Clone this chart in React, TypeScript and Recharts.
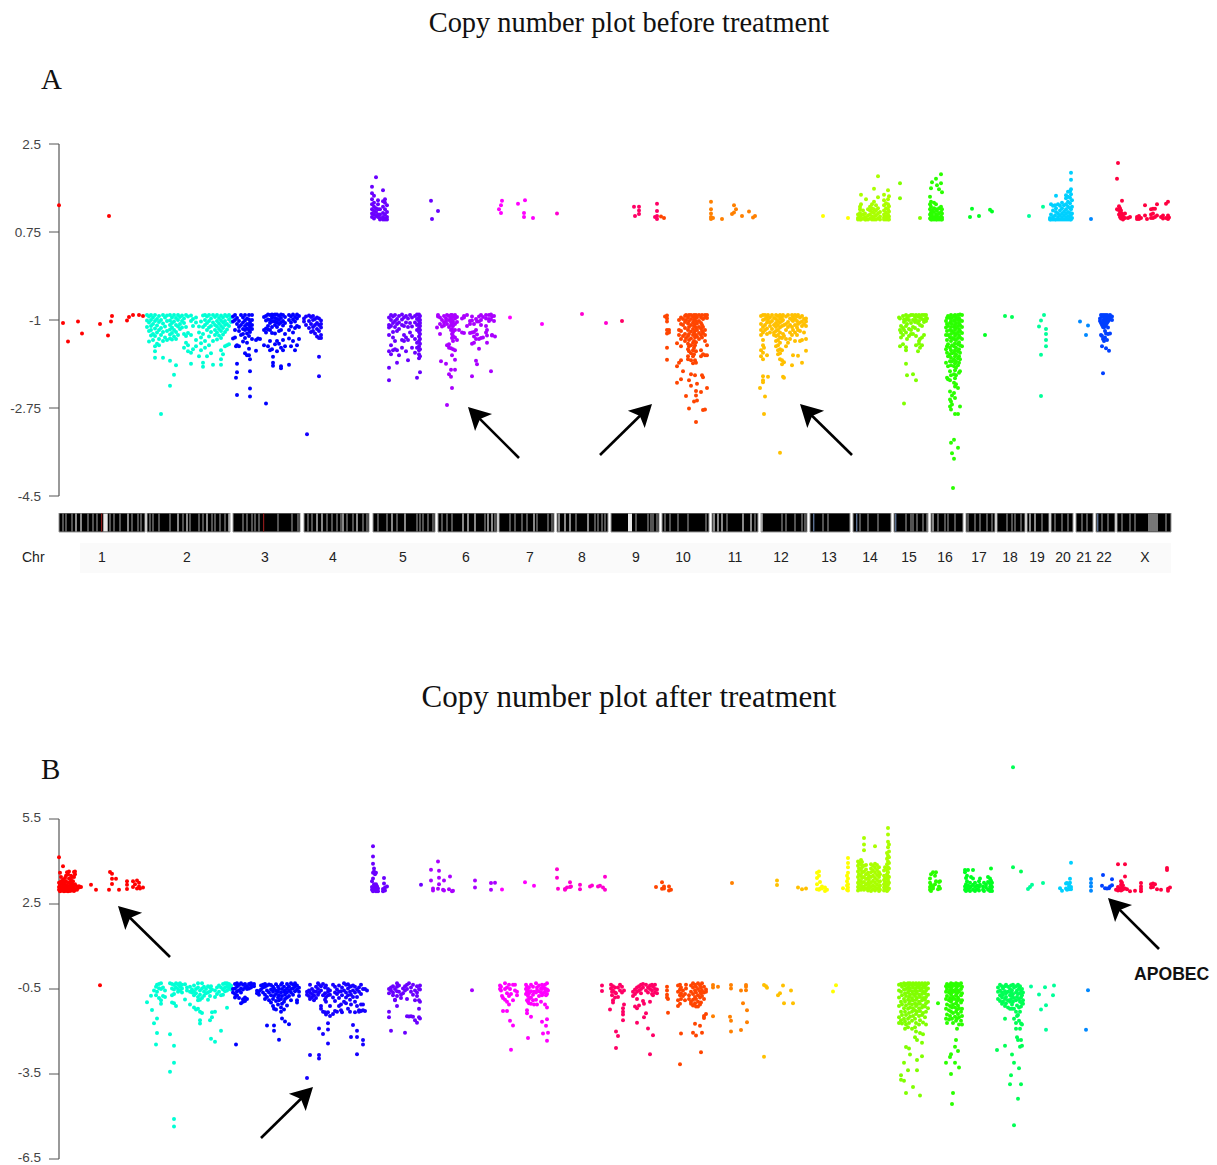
import { ReferenceArea, ReferenceLine, Scatter, ScatterChart, XAxis, YAxis } from "recharts";

// Each row is [genome position, value, value, ...]: everything seen at that position.
type Row = number[];

const chrNames = ["1", "2", "3", "4", "5", "6", "7", "8", "9", "10", "11", "12", "13", "14", "15", "16", "17", "18", "19", "20", "21", "22", "X"];
const chrColors = ["#ff0000", "#00ffd5", "#0000ff", "#1500ff", "#6a00ff", "#aa00ff", "#ff00ff", "#ff00d0", "#ff0066", "#ff4500", "#ff8000", "#ffc000", "#ffff00", "#aaff00", "#80ff00", "#2bff00", "#00ff22", "#00ff55", "#00ff99", "#00d0ff", "#0088ff", "#0040ff", "#ff0040"];
const chrCentres = [102, 187, 265, 333, 403, 466, 530, 582, 636, 683, 735, 781, 829, 870, 909, 945, 979, 1010, 1037, 1063, 1084, 1104, 1145];
const chrSpans = [[59, 145], [147, 230], [233, 300], [304, 369], [373, 435], [438, 497], [499, 554], [557, 608], [611, 659], [662, 709], [712, 758], [761, 807], [810, 850], [853, 891], [894, 928], [931, 963], [966, 995], [997, 1025], [1027, 1049], [1051, 1073], [1076, 1093], [1096, 1115], [1117, 1171]];

const midBands = [63, 66, 72, 88, 93, 97, 110, 114, 120, 132, 138, 141, 150, 153, 159, 170, 183, 190, 199, 203, 212, 215, 220, 225, 243, 247, 252, 255, 259, 278, 292, 298, 308, 312, 327, 332, 337, 341, 347, 353, 363, 367, 378, 387, 397, 417, 420, 423, 428, 433, 442, 447, 452, 485, 495, 510, 515, 522, 527, 537, 548, 552, 576, 595, 598, 602, 605, 636, 648, 651, 653, 657, 665, 670, 678, 688, 706, 727, 755, 782, 786, 795, 802, 805, 823, 828, 860, 868, 878, 906, 911, 913, 917, 923, 927, 938, 945, 948, 955, 968, 975, 980, 987, 992, 1007, 1012, 1015, 1021, 1042, 1055, 1062, 1068, 1082, 1087, 1102, 1108, 1122, 1130, 1135, 1149, 1151, 1153, 1155, 1157, 1166];
const lightBands = [76, 81, 128, 178, 187, 207, 229, 317, 322, 343, 357, 392, 405, 463, 468, 475, 488, 492, 534, 559, 565, 570, 588, 714, 718, 722, 743, 751, 762, 933, 1030, 1035];
const wideBands = [[103.3, 107.7, "#e8e8e8"], [628, 632, "#e8e8e8"], [1148, 1158, "#5a5a5a"], [101, 102.2, "#8b1a1a"], [263, 264.2, "#8b1a1a"], [813, 814.4, "#5a6f90"], [856, 857.4, "#5a6f90"], [895, 896.4, "#5a6f90"], [1097, 1098.4, "#5a6f90"]];

const before1: Row[] = [[59, 1.28], [63, -1.06], [68, -1.43], [78, -1.03], [82, -1.27], [100, -1.08], [108, -1.31], [109, 1.07], [111, -1.03], [112, -.92], [127, -1.01], [129, -.94], [133, -.9], [139, -.9], [143, -.92]];
const before2: Row[] = [[147, -.9, -1.01, -1.14], [149, -.93, -1.05, -1.22, -1.43], [151, -.9, -1, -1.12, -1.2, -1.31], [153, -.95, -1.08, -1.28, -1.4], [155, -.9, -1.02, -1.17, -1.32, -1.52, -1.62, -1.75], [157, -.98, -1.11, -1.25, -1.47], [159, -.92, -1.04, -1.2, -1.38, -1.5], [161, -1, -1.16, -1.3, -2.87], [163, -.9, -1.07, -1.24, -1.42, -1.75], [165, -.95, -1.13, -1.35], [167, -.91, -1.02, -1.22, -1.4], [170, -.9, -1.01, -1.1, -1.19, -1.29, -1.37, -1.81, -2.31], [172, -.95, -1.06, -1.15, -1.26, -1.39], [174, -.9, -1.03, -1.2, -1.33, -2.09], [176, -.96, -1.1, -1.24, -1.38, -1.9], [178, -.9, -1, -1.13, -1.3], [180, -.94, -1.08, -1.18], [182, -.91, -1.02, -1.15], [184, -.97, -1.06, -1.28, -1.55], [186, -.9, -1.14, -1.32, -1.45], [188, -.93, -1.26, -1.5, -1.62], [191, -.91, -1.02, -1.3, -1.65, -1.87], [193, -.98, -1.12, -1.58], [196, -.95, -1.05, -1.4, -1.52], [199, -1.13, -1.25, -1.72], [201, -1.03, -1.35, -1.46, -1.6], [203, -.91, -1.14, -1.28, -1.93, -1.85], [205, -.9, -1, -1.1, -1.42, -1.55], [207, -.93, -1.06, -1.2, -1.72], [209, -.9, -1.02, -1.15, -1.33, -1.5], [211, -.97, -1.12, -1.24, -1.66], [213, -.9, -1.05, -1.42, -1.89], [215, -.94, -1.1, -1.2, -1.3], [217, -.9, -1.02, -1.13, -1.25, -1.39], [219, -.96, -1.07, -1.18, -1.31], [221, -.91, -1.01, -1.12, -1.22, -1.36, -1.6, -1.78, -1.89], [223, -.95, -1.05, -1.16, -1.29, -1.68], [225, -.9, -1.02, -1.1, -1.24, -1.52], [227, -.93, -1.08, -1.19, -1.5], [229, -.9, -.99, -1.12, -1.48], [231, -.95, -1.04]];
const before3: Row[] = [[233, -.93, -1.03, -1.37], [235, -.9, -1, -1.2, -1.35], [236, -2.15, -1.52], [237, -.96, -1.08, -1.5, -1.87, -2.04, -2.49], [239, -1.02, -1.14, -1.22, -1.52], [241, -.9, -1.1, -1.3], [243, -.95, -1.05, -1.18, -1.28, -1.43], [245, -.9, -1.01, -1.12, -1.2, -1.36, -1.66], [247, -.97, -1.08, -1.17, -1.27, -1.45, -1.7], [249, -.9, -.99, -1.1, -1.2, -1.32, -1.57, -1.7], [250, -1.05, -1.14, -1.24, -1.78, -2.02, -2.36, -2.52], [252, -.9, -1, -1.1, -1.18, -1.38], [256, -1.61, -1.4], [258, -1.37], [260, -1.38], [264, -.94, -1.2, -1.5], [266, -.92, -1.01, -1.17, -1.25, -2.66], [268, -.89, -.99, -1.12, -1.19, -1.52], [270, -.9, -1, -1.06, -1.2, -1.42, -1.6], [272, -.89, -.95, -1.03, -1.14, -1.26, -1.58], [273, -.9, -1.02, -1.73, -1.85, -1.91], [275, -.89, -.96, -1.03, -1.1, -1.27, -1.48], [277, -.89, -.98, -1.05, -1.14, -1.42, -1.62], [279, -.92, -1, -1.08, -1.22, -1.47], [281, -.89, -.96, -1.05, -1.2, -1.55, -1.96, -1.92], [283, -.9, -1.02, -1.11, -1.4, -1.6], [285, -.94, -1.06, -1.28, -1.52], [289, -.9, -1, -1.2, -1.37, -1.89], [291, -.93, -1.05, -1.13, -1.52], [293, -.89, -.99, -1.25, -1.42], [295, -.94, -1.03, -1.16, -1.6], [297, -.89, -.97, -1.12, -1.5], [299, -.92, -1.14, -1.38]];
const before4: Row[] = [[304, -.97, -1.03], [306, -.93, -1.1], [307, -3.27], [309, -.91, -1.02, -1.16], [311, -.94, -1.08, -1.24], [313, -.92, -1, -1.14, -1.22], [315, -.98, -1.1, -1.27], [317, -.95, -1.06, -1.18, -1.33], [319, -.97, -1.1, -1.22, -1.36, -1.73, -2.12], [321, -1.01, -1.08, -1.15, -1.3, -1.36]];
const before5: Row[] = [[372, 1.05, 1.12, 1.2, 1.3, 1.4, 1.52, 1.65], [374, 1.02, 1.1, 1.17, 1.25, 1.33, 1.47], [376, 1.07, 1.15, 1.22, 1.84], [378, 1.05, 1.1, 1.2, 1.3, 1.38], [380, 1, 1.03, 1.1, 1.2], [383, 1, 1.05, 1.13, 1.25, 1.36, 1.58], [385, 1, 1.02, 1.1, 1.2, 1.33, 1.4], [387, 1, 1.05, 1.15, 1.28], [389, -.95, -1.1, -1.15, -1.3, -1.62, -1.95, -2.2], [391, -.9, -1, -1.12, -1.5, -1.68], [393, -.93, -1.06, -1.24, -1.35, -1.6], [395, -.9, -1.02, -1.14, -1.42, -1.58], [397, -.98, -1.08, -1.22, -1.6, -1.85], [399, -.92, -1.05, -1.18, -1.7], [402, -.89, -.99, -1.1, -1.4, -1.55], [404, -.95, -1.12, -1.3, -1.42], [406, -.92, -1.05, -1.35, -1.62], [408, -.97, -1.14, -1.4, -1.8], [410, -.9, -1.06, -1.25], [412, -.95, -1.13, -1.32, -1.55], [415, -.92, -1.05, -1.38, -1.65], [417, -.89, -.98, -1.1, -1.2, -1.45, -1.55, -2.15], [419, -.89, -.95, -1.02, -1.08, -1.16, -1.24, -1.33, -1.42, -1.52, -1.6, -1.68, -1.76], [420, -.92, -1, -1.06, -1.12, -1.2, -1.28, -1.38, -1.47, -1.58, -1.72, -2.04], [431, 1.37], [432, 1.01], [438, 1.17]];
const before6: Row[] = [[437, -1.15], [438, -.9, -.93], [440, -1.08, -1.28, -.95], [441, -1.82], [442, -1, -1.13], [444, -.92, -1.05, -1.11], [446, -.97, -1.02, -1.87], [447, -.9, -1.08, -1.5, -2.69], [449, -.92, -1, -1.14, -1.48, -1.55, -2.08], [451, -.9, -.96, -1.04, -1.1, -1.2, -1.56, -1.99, -2.13], [452, -.9, -1, -1.06, -1.18, -1.28, -1.36, -1.7, -2.35], [453, -.93, -1.03, -1.12, -1.24, -1.32, -1.42, -1.58], [455, -.9, -.97, -1.08, -1.2, -1.35, -1.6, -1.79, -1.99], [457, -.94, -1.04, -1.4], [459, -1.2], [462, -.97, -1.25], [464, -.92, -.95, -1.26], [467, -.9, -1.12], [470, -1.02, -1.26, -1.08], [472, -.93, -1.01, -1.25, -1.47, -2.12], [474, -1.08, -1.24, -1.33, -1.45], [476, -.98, -1.2, -1.38, -1.81], [477, -1.03, -1.29, -1.88], [479, -.93, -1.03, -1.38, -1.57], [481, -.9, -1, -1.1, -1.36], [483, -.94, -1.35], [486, -.9, -.97, -1.12, -1.25], [487, -1.2, -1.31, -1.45], [489, -.9, -.98, -1.02], [491, -.89, -.99, -2.02], [492, -.93, -1.3, -1.31], [494, -.92, -1.02], [495, -1.33]];
const before7: Row[] = [[499, 1.2], [501, 1.28, 1.13], [502, 1.37], [510, -.95], [518, 1.31], [524, 1.13, 1.05], [525, 1.38], [533, 1.03], [542, -1.08]];
const before8: Row[] = [[557, 1.12], [582, -.88], [606, -1.06]];
const before9: Row[] = [[622, -1.02], [634, 1.25], [635, 1.07], [639, 1.25, 1.18, 1.11], [655, 1.05], [657, 1.31, 1.17, 1.07, 1.01]];
const before10: Row[] = [[661, 1.06], [664, 1.03], [665, -.93], [667, -.91, -.97, -1.03, -1.2, -1.27, -1.55, -1.79], [669, -1.2, -1.25], [677, -1.46, -1.92, -2.25], [679, -1, -1.2, -1.3, -1.85], [681, -.95, -1.08, -1.22, -1.38, -1.52, -1.8, -2.18], [683, -.98, -1.1, -1.32, -2.02], [685, -.92, -1.04, -1.16, -1.28, -1.42], [686, -.9, -1, -1.36, -2.51], [688, -.95, -1.07, -1.2, -1.32, -1.47, -1.58, -1.72, -1.78], [689, -.9, -1.02, -1.14, -1.28, -1.4, -1.52, -1.62, -2.2, -2.76], [691, -.9, -.98, -1.1, -1.23, -1.37, -1.5, -1.66, -1.8, -2.08, -2.31], [693, -.93, -1.05, -1.18, -1.3, -1.45, -1.6, -1.72, -1.86], [694, -.9, -1, -1.12, -1.26, -1.42, -1.55, -1.68, -2.62], [695, -.96, -1.08, -1.22, -1.35, -1.5, -1.8, -2.1], [696, -.9, -1.02, -1.15, -1.3, -1.44, -1.62, -1.85, -2.41, -2.5, -3.03], [697, -.95, -1.07, -1.2, -1.33, -2.27, -2.6], [699, -.9, -1.02, -1.14, -1.26, -1.38], [701, -.95, -1.06, -1.17, -1.3, -1.6, -1.72, -2.43], [702, -.9, -1.1, -1.22, -1.35, -2.1], [703, -.98, -1.14, -1.26, -1.68, -2.14, -2.79], [705, -.9, -.95, -1.2, -1.3, -1.42, -1.7, -2.78], [707, -.9, -.96, -1.5, -1.7, -2.35]];
const before11: Row[] = [[711, 1.35, 1.2, 1.12, 1.05, 1.01], [713, 1.03], [722, 1.01], [732, 1.11], [734, 1.28, 1.14], [736, 1.2], [742, 1.07], [749, 1.16], [753, 1.04], [755, 1.07]];
const before12: Row[] = [[760, -2.35], [761, -.92, -1.08, -1.2, -1.3, -1.6, -1.72], [763, -.9, -1, -1.14, -1.25, -1.4, -1.5, -1.65, -1.78, -2.12, -2.2, -2.24], [764, -2.87, -1.55], [765, -.9, -.98, -1.1, -1.2, -2.52], [767, -.94, -1.05, -1.17, -1.28, -1.7], [768, -.9, -1, -2.13], [770, -.95, -1.05, -1.12, -1.25], [772, -.9, -1.02, -1.18], [774, -.96, -1.1, -1.25, -1.3], [776, -.9, -.98, -1.06, -1.14, -1.22, -1.32, -1.42, -1.52], [778, -.92, -1.02, -1.1, -1.2, -1.3, -1.4, -1.5, -1.6, -1.68], [780, -.9, -.97, -1.05, -1.15, -1.25, -1.35, -1.45, -1.58, -1.66, -1.78, -3.64], [782, -.94, -1.02, -1.12, -1.36, -1.6, -1.8, -1.88], [783, -.9, -1, -1.28, -2.13], [784, -1.1, -1.32, -1.84, -2.15], [786, -.93, -1.08, -1.2, -1.38, -1.52], [788, -.9, -1.04, -1.14, -1.45], [790, -.97, -1.1, -1.25, -1.38], [792, -.9, -1, -1.14, -1.3, -1.9], [793, -.94, -1.02, -1.2, -1.7], [795, -.9, -.98, -1.1, -1.25, -1.42], [797, -.93, -1.02, -1.15, -1.3], [798, -.9, -1.08, -1.2, -1.71], [800, -.95, -1.05, -1.22, -1.42], [802, -.92, -1.03, -1.12, -1.4, -1.85], [804, -.98, -1.08, -1.25], [806, -.97, -1.03, -1.12, -1.38, -1.61]];
const before13: Row[] = [[823, 1.07], [848, 1.03]];
const before14: Row[] = [[858, 1, 1.03, 1.1], [860, 1, 1.05, 1.13, 1.2, 1.25], [861, 1, 1.08, 1.3, 1.49], [863, 1.02, 1.1, 1.18], [865, 1, 1.05, 1.12], [866, 1, 1.03, 1.4], [868, 1, 1.08, 1.2], [870, 1.02, 1.1, 1.18, 1.25], [872, 1, 1.06, 1.15, 1.22, 1.3], [874, 1, 1.05, 1.13, 1.2, 1.35, 1.61], [876, 1, 1.08, 1.18, 1.28], [878, 1.02, 1.12, 1.22, 1.44, 1.86], [880, 1, 1.06, 1.15], [884, 1, 1.04, 1.1, 1.18, 1.28, 1.38, 1.49], [886, 1, 1.06, 1.14, 1.22, 1.32], [888, 1, 1.03, 1.1, 1.2, 1.3, 1.4, 1.58], [889, 1, 1.06, 1.16, 1.26, 1.46]];
const before15: Row[] = [[899, -.95], [900, 1.72, 1.42, -.97, -1.2, -1.52], [901, -1.12, -1.25, -1.35], [903, -.92, -1.16, -1.3, -1.48], [904, -.99, -1.04, -1.2, -2.66], [906, -.9, -1, -1.12, -1.25, -1.54, -1.6, -1.87], [907, -.96, -1.08, -1.38, -2.1], [909, -.92, -1, -1.18, -1.32], [911, -.9, -1.06, -1.2, -1.28], [913, -.9, -1, -1.14, -1.28, -2.08], [915, -.94, -1.04, -1.16], [916, -.9, -1, -1.32, -1.5, -2.2], [918, -.93, -1.06, -1.2, -1.62], [919, -.9, -1.02, -1.42, -1.47], [920, 1.03, -.95, -1.1, -1.38, -1.55], [922, -.9, -.98, -1.12, -1.35, -1.5], [924, -.9, -1, -1.04, -1.3], [926, -.9, -.96, -1.02], [927, -.97]];
const before16: Row[] = [[930, 1.02, 1.1, 1.2, 1.3, 1.45], [931, 1, 1.06, 1.14, 1.25, 1.35, 1.62], [932, 1, 1.03, 1.1, 1.18, 1.74], [934, 1, 1.05, 1.15, 1.22, 1.33], [936, 1, 1.04, 1.1, 1.2, 1.3, 1.81], [937, 1, 1.08, 1.17, 1.68], [939, 1, 1.04, 1.12, 1.22, 1.6], [941, 1, 1.06, 1.15, 1.25, 1.72, 1.9], [942, 1, 1.04, 1.12, 1.2, 1.54], [946, -1.02, -1.15, -1.3, -1.58, -1.85], [947, -.96, -1.08, -1.22, -1.4, -1.52, -1.65, -2.15], [948, -.92, -1.12, -1.3, -1.48, -1.72, -1.92, -2.18], [950, -.96, -1.06, -1.2, -1.35, -1.55, -1.68, -1.82, -2.02, -2.2, -2.42, -2.58, -2.72], [951, -.9, -1.02, -1.14, -1.28, -1.42, -1.6, -1.75, -1.9, -2.1, -2.62, -2.78, -3.44], [952, -.96, -1.08, -1.22, -1.36, -1.5, -1.66, -1.82, -2.5, -2.68, -3.65], [953, -4.34], [954, -.92, -1.02, -1.14, -1.26, -1.38, -1.52, -1.65, -1.78, -1.92, -2.08, -2.25, -2.45, -3.38, -3.76], [955, -.9, -1, -1.1, -1.2, -1.32, -1.46, -1.6, -1.72, -1.86, -2, -2.16, -2.32, -2.55, -2.87], [956, -.95, -1.06, -1.16, -1.28, -1.4, -1.55, -1.68, -1.82, -1.95, -2.1, -2.28], [958, -.9, -1, -1.12, -1.24, -1.36, -1.48, -1.62, -1.76, -1.9, -2.35, -2.87, -3.54], [959, -.96, -1.06, -1.18, -1.3, -1.44, -1.58, -1.72, -1.85, -2.05], [960, -.89, -1, -1.1, -1.22, -1.35, -1.5, -1.65, -1.78, -2.02, -2.72], [962, -.9, -1.02, -1.14, -1.26, -1.38, -1.52]];
const before17: Row[] = [[970, 1.05], [972, 1.21], [979, 1.07], [985, -1.3], [990, 1.19], [992, 1.16]];
const before18: Row[] = [[1005, -.92], [1012, -.94]];
const before19: Row[] = [[1029, 1.07], [1039, -1.13], [1041, -1.01, -1.69, -2.51], [1043, 1.25], [1044, -.9], [1046, -1.18, -1.28, -1.4, -1.52]];
const before20: Row[] = [[1050, 1, 1.03], [1051, 1, 1.1, 1.3], [1053, 1, 1.05, 1.18, 1.27], [1055, 1, 1.08, 1.28], [1056, 1, 1.15, 1.22, 1.47], [1058, 1, 1.05, 1.12, 1.3], [1060, 1, 1.08, 1.18, 1.27], [1062, 1, 1.04, 1.12, 1.22, 1.33], [1064, 1, 1.08, 1.16, 1.28], [1066, 1, 1.04, 1.12, 1.2, 1.3, 1.42, 1.48], [1068, 1, 1.07, 1.15, 1.25, 1.35, 1.45, 1.55], [1070, 1, 1.05, 1.13, 1.22, 1.32, 1.43, 1.56], [1071, 1, 1.1, 1.2, 1.5, 1.6, 1.79, 1.93], [1072, 1.03, 1.12, 1.25, 1.38]];
const before21: Row[] = [[1080, -1.03], [1086, -1.3], [1088, -1.11], [1091, 1.01]];
const before22: Row[] = [[1100, -.97, -1.02], [1101, -.9, -1.06, -1.3], [1102, -.93, -1.1, -1.32, -1.52], [1103, -.9, -1, -1.07, -1.14, -1.38, -2.06], [1104, -.94, -1.03, -1.1, -1.15, -1.42], [1105, -.9, -.98, -1.06, -1.12, -1.22, -1.35], [1106, -.95, -1.04, -1.1, -1.27, -1.56], [1107, -.9, -1, -1.06, -1.4], [1108, -.96, -1.03, -1.15, -1.28], [1109, -.93, -1, -1.61], [1110, -.9, -.97, -1.27], [1112, -.93, -1]];
const beforeX: Row[] = [[1117, 1.81, 1.2], [1118, 2.12, 1.19], [1119, 1.26, 1.1], [1120, 1.22, 1.15, 1.05], [1121, 1.18, 1.1, 1.02], [1122, 1.37, 1.12, 1.03], [1123, 1.07, 1], [1125, 1.12, 1.03], [1128, 1.03], [1130, 1.05], [1137, 1.05, 1.01], [1139, 1.01, 1.07], [1141, 1.03], [1145, 1.28, 1.08], [1147, 1.01], [1151, 1.2, 1.1, 1.03], [1153, 1.21, 1.12, 1.03], [1155, 1.21, 1.05], [1157, 1.3, 1.08], [1161, 1.05], [1163, 1.08, 1.02], [1166, 1.31, 1.03], [1168, 1.35, 1.08, 1.01], [1169, 1.04]];

const after1: Row[] = [[59, 3, 3.1, 3.25, 4.15], [60, 2.95, 3.05, 3.18, 3.6], [61, 3, 3.1, 3.3, 3.45], [62, 2.97, 3.08, 3.22], [63, 3, 3.12, 3.36, 3.83], [64, 2.95, 3.05, 3.18, 3.28], [65, 3, 3.1, 3.2, 3.42], [66, 2.96, 3.06, 3.3, 3.5], [67, 3, 3.15, 3.62], [68, 2.95, 3.05, 3.25, 3.55], [69, 3, 3.1, 3.4, 3.65], [70, 2.96, 3.18, 3.28], [71, 3.02, 3.12, 3.35, 3.5], [72, 2.98, 3.08, 3.22, 3.45], [73, 3, 3.15, 3.3], [74, 2.96, 3.1, 3.45, 3.63], [75, 3, 3.2, 3.55, 3.65], [77, 3, 3.12, 3.05], [79, 3.08, 3.13], [81, 3.1], [91, 3.18], [96, 3], [100, -.37], [109, 3], [110, 3.63], [112, 3.57, 3.39, 3.21], [116, 3.39], [119, 3], [127, 3.3, 3.18, 3.03], [133, 3.3, 3.1], [135, 3.2], [137, 3.33, 3.05], [139, 3.25, 3.12], [140, 3.05], [143, 3.08]];
const after2: Row[] = [[147, -.97], [151, -.74], [152, -1.24], [154, -.55, -1.71], [156, -.42, -.72, -2.46], [157, -.35, -.6, -1.54, -2.05], [159, -.32, -.47, -.82], [161, -.3, -.5, -.9, -1.02], [163, -.45, -.75], [165, -.55, -.78], [170, -.3, -2.1, -3.42], [172, -.32, -.48, -.72, -.98], [174, -.36, -.52, -.68, -1, -2.5, -3.1, -5.09, -5.35], [176, -.3, -.44, -1.1], [178, -.33, -.5, -.6], [180, -.3, -.4, -.55], [182, -.35, -.48, -.62], [185, -.33, -.87], [187, -.45, -.55], [190, -.42, -.6, -1.05], [192, -.52, -.62], [194, -.38, -.6, -.72, -1.15], [196, -.5, -.65, -1.22], [198, -.3, -.45, -.78, -.9, -1.2], [200, -.55, -.7, -.88, -1.3, -1.6, -1.72], [202, -.3, -.48, -.82, -1.35], [204, -.42, -.6, -.74], [206, -.5, -.65], [208, -.4, -.62, -.88], [210, -.45, -.58, -.75, -1.6], [211, -.4, -2.26], [212, -.52, -1.32, -1.5], [215, -.55, -.78, -1.3, -2.36], [217, -.45, -.68], [219, -.38, -.6], [221, -.45, -.72, -1.97], [223, -.32, -.52, -.7], [225, -.3, -.44, -.58], [227, -.3, -.42, -.55, -1.16], [229, -.32, -.4, -.5], [231, -.38, -.45, -.52]];
const after3: Row[] = [[233, -.5, -.62], [235, -.32, -.48, -.68, -.8], [236, -2.46], [237, -.3, -.42, -.58, -.72], [239, -.36, -.55, -.82], [241, -.3, -.48, -.62, -1], [243, -.35, -.52, -.86, -.95], [245, -.32, -.45, -.8, -.92], [247, -.4, -.5, -.85], [249, -.32, -.48], [251, -.3, -.38, -.45], [254, -.32, -.4], [257, -.56, -.65], [259, -.58, -.7], [261, -.38, -.52], [263, -.35, -.45, -.62], [265, -.32, -.42, -.7, -.85], [267, -.38, -.55, -.78, -1.79], [269, -.34, -.62, -.9], [271, -.36, -.52, -.72, -.98], [273, -.42, -.6, -.85, -1.1], [274, -.48, -.75, -1.2, -1.79, -1.97], [276, -.33, -.55, -.68, -.92, -1.22], [278, -.42, -.6, -.8, -1.05], [279, -.5, -.72, -.9, -2.29], [281, -.35, -.62, -.85, -1.15, -1.3], [282, -.3, -.5, -.75, -1.02, -1.54], [284, -.42, -.6, -.95, -1.22], [285, -.55, -.7, -.85, -1.65], [287, -.32, -.48, -.62, -.8, -1.08], [289, -.4, -.55, -.75, -1.74], [291, -.3, -.5, -.62, -.9], [293, -.35, -.48, -.7], [295, -.3, -.42, -.58], [297, -.38, -.52, -.9, -.98], [299, -.46, -.6, -.75]];
const after4: Row[] = [[307, -.6, -.7, -3.64], [309, -.55, -.75], [310, -.35, -.62, -.85, -2.83], [312, -.5, -.68, -.8], [314, -.58, -.72, -.9], [316, -.42, -.6, -.82], [318, -.3, -.5, -.7], [319, -.35, -.62, -1.89, -2.83, -2.95], [321, -.4, -.55, -1.1, -1.2], [323, -.32, -.72, -1.3, -2.09], [325, -.45, -.65, -.88, -1.32], [326, -.38, -.78, -.95, -1.4], [328, -.5, -.6, -.72, -1.32, -1.71, -1.93, -2.42], [330, -.55, -.7, -1.1, -1.45], [333, -.35, -.8, -1.38], [335, -.42, -.62, -.92, -1.28], [337, -.52, -.68, -1.3], [339, -.38, -.6, -.82, -1.1], [341, -.58, -1.05, -1.25], [342, -.45, -.72, -1.32], [344, -.3, -.55, -.95], [346, -.35, -.62, -.8, -1], [348, -.33, -.48, -.72, -1.2], [350, -.42, -.6, -.88, -1.3], [351, -.4, -.7, -1.05, -2.19], [353, -.38, -.55, -.78, -1.77], [355, -.42, -.62, -.95, -1.32], [357, -.52, -.78, -1.1, -1.97, -2.19, -2.8], [359, -.45, -.6, -1.25, -1.3], [361, -.35, -.68, -1.05, -1.28], [363, -.5, -1.05, -1.25, -2.3, -2.46], [365, -.5, -1.28], [367, -.55]];
const after5: Row[] = [[372, 3, 3.1, 3.3], [373, 2.95, 3.05, 3.4, 3.6, 3.92, 4.18, 4.54], [374, 2.98, 3.2, 3.65, 3.75], [375, 3, 3.1, 3.55], [376, 2.95, 3.05, 3.2, 3.6], [377, 3, 3.13], [378, 2.95, 3.05], [383, 2.95, 3.03], [384, 3.42, 3.22], [385, 2.98, 3.08], [387, 3.12], [389, -.5, -.65, -1.3, -1.5], [391, -.45, -.55, -1.97], [393, -.4, -.62, -.72], [395, -.5, -.88, -.9], [397, -.3, -.42, -.58, -.75, -1.1], [399, -.38, -.6], [401, -.7, -.82], [403, -.48, -.65], [405, -.4, -.55, -2.04], [407, -.35, -.5, -.85, -1.46], [409, -.3, -1.47], [411, -.45, -.6, -1.46], [413, -.35, -.7, -1.48], [415, -.55, -.9, -1.6], [417, -.4, -.62, -.75, -1.69], [419, -.5, -.9, -1.2, -1.5], [420, -.38, -.52, -.95, -1.54], [421, 3.18]];
const after6: Row[] = [[431, 3.71, 3.33], [433, 3.05, 2.98], [438, 4, 3.04], [439, 3.67, 3.43, 3.2], [443, 3], [444, 3.33, 2.98], [449, 3.02], [450, 3.47], [452, 2.95], [453, 2.97], [472, -.54], [475, 3.33, 3.08], [491, 3.24, 3], [495, 3.25]];
const after7: Row[] = [[500, -.38, -.5], [501, -.42, -.55], [502, 3.01, -.75], [503, -1.28, -.82], [505, -.3, -.5, -.88], [507, -.45, -.65, -.95, -1.28], [509, -.35, -.75, -1.05], [510, -1.62, -.5], [511, -.68, -2.64], [513, -.35, -.9, -1.79], [515, -.35, -.55], [517, -.6, -.72], [525, 3.27], [526, -.35, -.5, -.68], [527, -.42, -.6, -.9, -1.36, -1.25], [528, -.55, -.75, -.95, -2.23], [529, -.45, -.65, -.85, -1], [531, -.35, -.58, -.8, -1.02, -1.48], [533, -.42, -.7, -.9], [534, 3.14, -.6, -1.05], [536, -.3, -.62, -.88], [537, -.45, -.55, -1.05], [539, -.38, -.58, -.75], [541, -.48, -.62, -.95], [542, -.35, -.5, -.72, -1.66], [543, -.42, -.65, -2.07], [545, -.35, -.48, -.6, -1.05], [546, -.72, -1.8], [547, -.3, -.52, -.68, -1.15, -1.57, -2.33], [548, -.55, -2.04]];
const after8: Row[] = [[557, 3.73, 3.43], [558, 3.04], [565, 3, 3.03], [567, 3.08], [570, 3.27, 3.1], [571, 3.12], [580, 3.18, 3.02], [590, 3.12], [592, 3.15], [598, 3.12], [600, 3.14], [603, 3.08], [605, 3.46, 3]];
const after9: Row[] = [[602, -.38, -.57], [610, -1.22], [611, -.35, -.48], [612, -.6, -.72], [613, -.4, -.55, -.9, -.98], [615, -.45, -.62, -.8], [616, -.65, -2, -2.58], [618, -.45, -.78, -2.16], [620, -.35, -.55], [622, -.42, -.62], [623, -1.18, -1.3, -1.4, -1.6], [624, -.55, -1.05], [633, -.6, -.75], [635, -.52, -.68, -1.12], [637, -.45, -.6, -.85, -1.18, -1.69], [639, -.4, -.55, -1.08], [641, -.35, -.5, -.65], [643, -.32, -.45, -.92], [644, -1.02, -1.5], [646, -.35, -.55, -1.36], [648, -.45, -.62, -1.89], [650, -.38, -.5, -.95, -2.8], [652, -.35, -.55, -.68], [653, -.42, -.72, -2.13], [655, -.35, -.5, -.62], [657, -.52, -.65]];
const after10: Row[] = [[656, 3.1], [662, 3.27, 3.04], [664, 3.12, 3.05], [667, -.42, -.55, -.7, -.8], [668, -1.34, -.85], [669, 3.12, 2.98], [671, 3], [678, -.38, -.6, -.9, -1.1], [680, -.35, -.52, -.72, -1.02, -3.16], [681, -.45, -.65, -.85, -2.07], [683, -.55, -.75], [685, -.68, -.9], [686, -.35, -.48], [689, -.72, -.85], [691, -.38, -.6, -.95, -1.02], [693, -.3, -.45, -.68, -.88, -1.08, -2.04], [695, -.35, -.55, -.78, -1, -1.73], [696, -.42, -.62, -.85, -1.12, -2.14], [698, -.3, -.5, -.72, -.95, -1.12], [700, -.38, -.58, -.8, -1.05, -1.8], [701, -.45, -.65, -.98, -2.73], [702, -.3, -.55, -.75, -2.04], [704, -.42, -.62, -.85, -1.45, -1.52], [706, -.52, -.6, -1.38]];
const after11: Row[] = [[713, -.36, -.45, -1.46], [718, -.42], [730, -1.48], [731, -.36, -.48, -1.62, -2], [732, 3.24], [741, -.55, -1.95], [743, -1], [746, -.36, -.42, -.54], [747, -1.25, -1.67]];
const after12: Row[] = [[764, -.36, -2.89], [766, -.4], [767, -.46], [777, 3.33, 3.17], [778, -.72], [780, -.65], [783, -.38], [784, -1], [791, -.55], [793, -1], [798, 3.08], [802, 3.02], [806, 3.05]];
const after13: Row[] = [[817, 3.02, 3.2, 3.42, 3.6], [819, 3, 3.5, 3.65], [820, 3.28, 3.05], [822, 3.05, 3.12], [825, 2.96, 3.08], [827, 3], [833, -.59], [836, -.37], [843, 3.06], [847, 3, 3.15, 3.3, 3.5], [848, 2.98, 3.08, 3.2, 3.4, 3.6, 3.8, 3.95, 4.12]];
const after14: Row[] = [[858, 2.98, 3.1, 3.25, 3.45, 3.65, 3.85, 4], [859, 3.05, 3.2, 3.35, 3.55, 3.75, 3.95], [861, 3, 3.15, 3.3, 3.5, 3.7, 3.9, 4.05], [862, 3.08, 3.25, 3.42, 3.6, 3.8, 3.98], [864, 3, 3.12, 3.28, 3.45, 3.65, 3.85, 4.4, 4.6, 4.83], [866, 3.05, 3.2, 3.38, 3.55, 3.72, 3.88], [868, 2.98, 3.1, 3.25, 3.42, 3.6], [869, 3.05, 3.18, 3.35, 3.5], [871, 2.96, 3.1, 3.25, 3.45, 3.62, 3.75, 3.9], [873, 3.02, 3.15, 3.32, 3.5, 3.68, 3.85], [875, 2.98, 3.1, 3.25, 3.42, 3.6, 3.78, 3.92, 4.54], [877, 3.04, 3.18, 3.35, 3.52, 3.7, 3.88], [879, 2.96, 3.1, 3.28, 3.45, 3.62, 3.8], [880, 3, 3.15, 3.3, 3.55], [884, 2.98, 3.08, 3.2, 3.35, 3.5, 3.68], [885, 3.02, 3.15, 3.28, 3.42, 3.8], [887, 2.96, 3.1, 3.25, 3.4, 3.55, 3.7, 3.9, 4.1, 4.3], [888, 3, 3.18, 3.35, 3.48, 3.62, 3.8, 4, 4.2, 4.5, 4.7, 4.95, 5.18], [889, 3.05, 3.25, 3.45, 3.75, 3.95, 4.15, 4.35, 4.6]];
const after15: Row[] = [[899, -.35, -.55, -.8, -1.1, -1.5, -1.7], [901, -.32, -.6, -.95, -1.3, -1.6, -3.54, -3.7], [902, -.42, -.72, -1.05, -1.42, -1.72], [904, -.3, -.52, -.85, -1.18, -1.55, -3.1, -3.74], [905, -.38, -.65, -.95, -1.3, -1.65, -1.9], [906, -.32, -.5, -.75, -1.08, -1.42, -1.75, -2.55, -4.17], [908, -.3, -.45, -.62, -.88, -1.2, -1.55, -1.85, -3.37], [909, -.38, -.55, -.78, -1.02, -1.35, -1.7, -2.6], [910, -.3, -.48, -.7, -.92, -1.15, -1.48, -2.81], [912, -.36, -.58, -.82, -1.05, -1.3, -1.62, -1.9], [913, -.3, -.45, -.68, -.9, -1.18, -1.45, -3.96], [915, -.35, -.55, -.75, -1, -1.25, -1.55, -1.85, -2.2], [916, -.3, -.48, -.65, -.88, -1.1, -1.38, -1.7, -2], [917, -.38, -.6, -.82, -1.05, -1.3, -2.3, -3.01, -3.37], [919, -.3, -.45, -.7, -.95, -1.18, -1.45, -1.75], [920, -.36, -.55, -.78, -1.02, -1.28, -1.6, -2.05, -4.26], [922, -.3, -.48, -.68, -.9, -1.15, -1.42, -2.4, -2.87], [923, -.38, -.6, -.82, -1.08, -1.35, -1.68, -2.1], [925, -.3, -.45, -.65, -.88, -1.12, -1.5], [926, -.36, -.55, -.78, -1, -1.3, -1.75], [928, -.3, -.48, -.7, -.95, -1.18]];
const after16: Row[] = [[930, 3, 3.1, 3.25, 3.4], [931, 2.96, 3.18, 3.55], [933, 3.05, 3.12, 3.62], [935, 3.2, 3.5], [936, 3.3, 3.62], [938, 3.02, -1], [939, 3.28, 3.12], [940, 3.05, 3.3], [946, -.4, -.6, -.85, -1.2, -1.55, -3.1], [947, -.32, -.5, -.75, -1.05, -1.4, -1.7], [949, -.4, -.62, -.9, -1.25, -1.58], [950, -.35, -.55, -.82, -1.1, -1.45, -2.9], [951, -.3, -.48, -.7, -.95, -1.3, -3.5, -2.8], [952, -.42, -.62, -.88, -1.15, -1.55, -4.56], [953, -.32, -.55, -.78, -1.05, -1.35, -1.7, -4.17], [955, -.38, -.6, -.85, -1.15, -1.48, -2.54, -3.1], [956, -.3, -.5, -.72, -1, -1.3, -1.62, -2.3], [957, -.42, -.65, -.92, -1.22, -1.55, -1.9], [958, -.32, -.55, -.8, -1.08, -1.38, -2.69], [959, -.38, -.6, -.88, -1.18, -1.5, -1.75, -3.27], [961, -.3, -.5, -.72, -.98, -1.3, -1.62], [962, -.42, -.65, -.9, -1.2, -1.45, -1.75]];
const after17: Row[] = [[965, 3, 3.12, 3.62, 3.7], [966, 2.96, 3.2, 3.42], [967, 3.05, 3.5, 3.3], [968, 3, 3.15, 3.7], [970, 2.96, 3.08, 3.25], [971, 3.12, 3.45], [973, 3, 3.18, 3.4, 3.7], [975, 2.96, 3.1, 3.25], [977, 3.02, 3.15], [979, 3.3, 3.1, 2.98], [980, 3.4, 3.18], [983, 3, 3.12], [984, 2.96, 3.25], [986, 3.08, 3.18], [988, 3, 3.28, 3.45], [990, 2.96, 3.1, 3.22, 3.4], [991, 3.05, 3.15, 3.32, 3.75], [992, 2.96, 3.1, 3.25]];
const after18: Row[] = [[997, -2.65], [998, -.45, -.6, -.85], [1000, -.35, -.55, -.72, -.92], [1002, -.4, -.62, -.8, -1.02], [1003, -.48, -.7, -.95], [1005, -.4, -.58, -.85, -1.1, -1.55, -2.5], [1006, -.35, -.65, -.78, -1], [1008, -.42, -.6, -.9, -1.15], [1010, -.5, -.72, -.95, -1.2, -3.86], [1011, -.38, -.62, -.85, -3.54], [1012, -.55, -.75, -1.05, -1.2, -2.81], [1013, 7.33, 3.8, -.35, -.68, -.95], [1014, -.45, -.82, -1.2, -1.55, -3.1, -5.31], [1016, -.4, -.62, -.9, -1.3, -1.7, -1.9], [1017, -.55, -.78, -1.08, -1.45, -2.2], [1018, -.35, -.68, -1.42, -2.3, -4.37], [1019, -.48, -.85, -1.15, -1.62, -3.3], [1020, -.4, -.65, -.95, -1.3, -1.9, -2.54], [1021, 3.65, -.55, -.8, -1.12, -1.72, -2.3, -3.86], [1022, -.5, -.72, -1, -1.75, -2.5], [1023, -.62, -.9, -1.02]];
const after19: Row[] = [[1028, 3.03], [1030, 3.1], [1031, -.41], [1032, 3.18], [1039, -.69], [1041, -1.22], [1043, 3.24], [1045, -.44], [1046, -1.07, -1.94], [1053, -.72], [1054, -.38]];
const after20: Row[] = [[1060, 3.06], [1062, 2.97], [1066, 3.05, 3.22], [1067, 3.24, 3], [1069, 3.12, 3.2, 3.02], [1070, 3.39, 3.25], [1071, 3.96, 3.1, 3.02]];
const after21: Row[] = [[1086, -1.94], [1088, -.54], [1091, 3.38, 3.24, 3.12, 2.97]];
const after22: Row[] = [[1102, 3.14], [1103, 3.52], [1105, 3.06], [1107, 3.05], [1109, 3.06], [1110, 3.12], [1112, 3.37, 3.16]];
const afterX: Row[] = [[1116, 3], [1118, 3.9, 3.1, 2.98], [1120, 3.05, 3], [1121, 3.18, 3.3, 2.98], [1122, 3.1, 3.25, 3], [1123, 3.15, 3.02], [1125, 3.9, 3.47, 3.05], [1127, 3.02], [1130, 2.95], [1135, 2.97], [1141, 3.24, 3.12, 3.03, 2.95], [1151, 3.2, 3.08], [1153, 3.22, 3.1], [1155, 3.2], [1157, 3.02], [1161, 3], [1167, 3.77, 3.7], [1168, 3.04, 2.97], [1170, 3.08]];

const beforeRows = [before1, before2, before3, before4, before5, before6, before7, before8, before9, before10, before11, before12, before13, before14, before15, before16, before17, before18, before19, before20, before21, before22, beforeX];
const afterRows = [after1, after2, after3, after4, after5, after6, after7, after8, after9, after10, after11, after12, after13, after14, after15, after16, after17, after18, after19, after20, after21, after22, afterX];

const beforeTicks = [2.5, 0.75, -1, -2.75, -4.5];
const afterTicks = [5.5, 2.5, -0.5, -3.5, -6.5];

const genomeDomain = [59, 1174];
const sans = "'Liberation Sans', Arial, sans-serif";
const serif = "'Liberation Serif', 'Times New Roman', serif";

const toPoints = (rows: Row[]) => rows.flatMap(([x, ...ys]) => ys.map((y) => ({ x, y })));
const dot = (p: any) => <circle cx={p.cx} cy={p.cy} r={2} fill={p.fill} />;
const noDot = () => <g />;

function CopyPanel({ rows, ticks, yMax, top, height, marginTop, marginBottom, labelShift }: { rows: Row[][]; ticks: number[]; yMax: number; top: number; height: number; marginTop: number; marginBottom: number; labelShift: number }) {
  const yMin = ticks[ticks.length - 1];
  return (
    <div style={{ position: "absolute", left: 0, top }}>
      <ScatterChart width={1217} height={height} margin={{ top: marginTop, bottom: marginBottom, left: 9, right: 43 }}>
        <XAxis type="number" dataKey="x" domain={genomeDomain} hide />
        <YAxis
          type="number"
          dataKey="y"
          width={50}
          domain={[yMin, yMax]}
          ticks={ticks}
          interval={0}
          axisLine={false}
          tickSize={10}
          tickMargin={8}
          tickLine={{ stroke: "#555" }}
          tick={{ fontFamily: sans, fontSize: 13.5, fill: "#444", dy: labelShift }}
        />
        <ReferenceLine segment={[{ x: 59, y: ticks[0] }, { x: 59, y: yMin }]} stroke="#555" strokeWidth={1.2} />
        {rows.map((r, i) => (
          <Scatter key={chrNames[i]} data={toPoints(r)} fill={chrColors[i]} shape={dot} isAnimationActive={false} />
        ))}
      </ScatterChart>
    </div>
  );
}

function Ideogram() {
  return (
    <div style={{ position: "absolute", left: 0, top: 513 }}>
      <ScatterChart width={1217} height={62} margin={{ top: 0, bottom: 0, left: 59, right: 43 }}>
        <XAxis
          type="number"
          dataKey="x"
          domain={genomeDomain}
          ticks={chrCentres}
          interval={0}
          height={43}
          axisLine={false}
          tickLine={false}
          tickMargin={14}
          tickFormatter={(v: number) => chrNames[chrCentres.indexOf(v)]}
          tick={{ fontFamily: sans, fontSize: 14, fill: "#222" }}
        />
        <YAxis type="number" dataKey="y" domain={[0, 1]} hide />
        <Scatter data={chrCentres.map((x) => ({ x, y: 0.5 }))} shape={noDot} isAnimationActive={false} />
        {chrSpans.map(([a, b]) => (
          <ReferenceArea key={a} x1={a} x2={b} y1={0} y2={1} fill="#000" fillOpacity={1} stroke="#9a9a9a" strokeWidth={1} />
        ))}
        {wideBands.map(([a, b, c]) => (
          <ReferenceArea key={"w" + a} x1={a as number} x2={b as number} y1={0.03} y2={0.97} fill={c as string} fillOpacity={1} />
        ))}
        {midBands.map((p) => (
          <ReferenceArea key={"m" + p} x1={p - 0.6} x2={p + 0.6} y1={0.03} y2={0.97} fill="#8a8a8a" fillOpacity={1} />
        ))}
        {lightBands.map((p) => (
          <ReferenceArea key={"l" + p} x1={p - 0.6} x2={p + 0.6} y1={0.03} y2={0.97} fill="#e4e4e4" fillOpacity={1} />
        ))}
      </ScatterChart>
    </div>
  );
}

function Arrow({ from, to }: { from: number[]; to: number[] }) {
  const angle = (Math.atan2(from[1] - to[1], from[0] - to[0]) * 180) / Math.PI;
  const len = Math.hypot(from[0] - to[0], from[1] - to[1]);
  return (
    <g transform={`translate(${to[0]} ${to[1]}) rotate(${angle})`}>
      <line x1={15} y1={0} x2={len} y2={0} stroke="#000" strokeWidth={2.6} />
      <polygon points="0,0 22,-12 17,0 22,12" fill="#000" />
    </g>
  );
}

const arrows = [
  [[519, 458], [468, 407]],
  [[600, 455], [652, 404]],
  [[852, 455], [800, 404]],
  [[170, 957], [118, 906]],
  [[261, 1138], [313, 1087]],
  [[1159, 949], [1108, 898]],
];

export default function App() {
  return (
    <div style={{ position: "absolute", left: 0, top: 0, width: 1217, height: 1165, background: "#fff", overflow: "hidden" }}>
      <div style={{ position: "absolute", left: 80, top: 543, width: 1091, height: 30, background: "#fafafa" }} />
      <CopyPanel rows={beforeRows} ticks={beforeTicks} yMax={2.5} top={0} height={510} marginTop={144} marginBottom={14} labelShift={0} />
      <Ideogram />
      <CopyPanel rows={afterRows} ticks={afterTicks} yMax={7.6} top={700} height={465} marginTop={59.5} marginBottom={6} labelShift={-2} />
      <svg width={1217} height={1165} style={{ position: "absolute", left: 0, top: 0, pointerEvents: "none" }}>
        <text x={629} y={32} textAnchor="middle" fontFamily={serif} fontSize={28.4} fill="#111">Copy number plot before treatment</text>
        <text x={629} y={707} textAnchor="middle" fontFamily={serif} fontSize={31} fill="#111">Copy number plot after treatment</text>
        <text x={41} y={89} fontFamily={serif} fontSize={29} fill="#111">A</text>
        <text x={41} y={779} fontFamily={serif} fontSize={29} fill="#111">B</text>
        <text x={22} y={562} fontFamily={sans} fontSize={14} fill="#222">Chr</text>
        <text x={1134} y={980} fontFamily={sans} fontSize={17.6} fontWeight="bold" fill="#111">APOBEC</text>
        {arrows.map(([from, to], i) => (
          <Arrow key={i} from={from} to={to} />
        ))}
      </svg>
    </div>
  );
}
